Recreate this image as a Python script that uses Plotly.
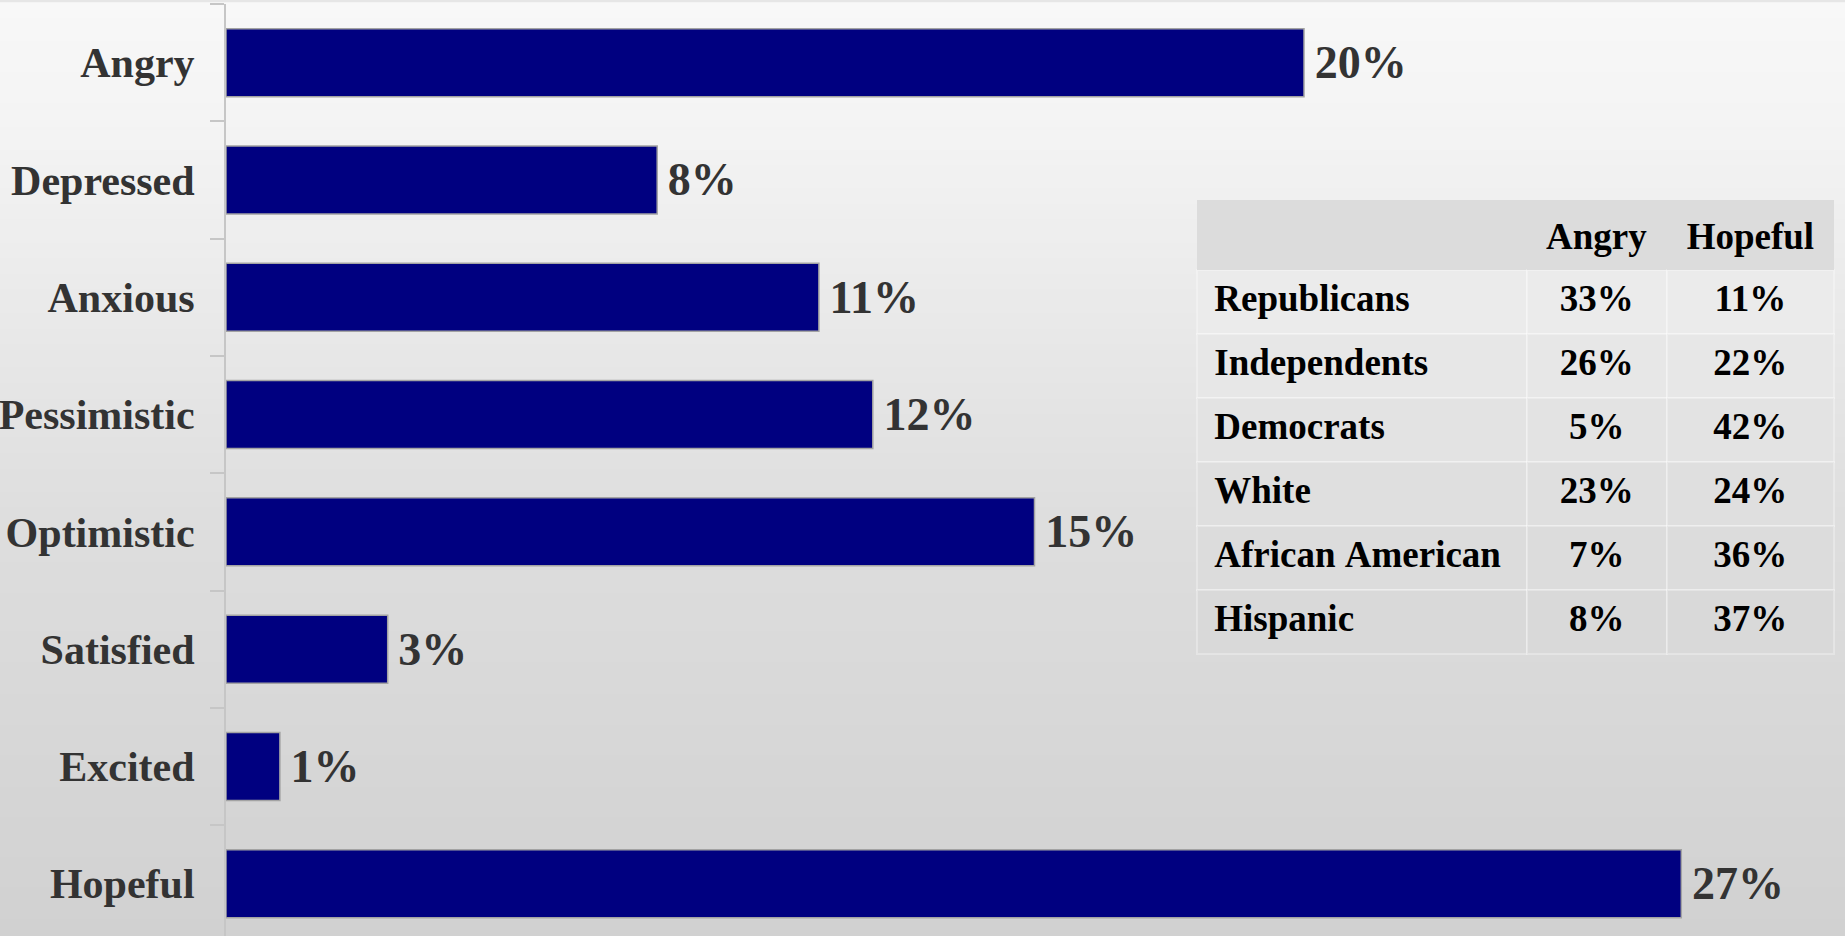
import plotly.graph_objects as go

# ---- data ----
emotions = ["Angry", "Depressed", "Anxious", "Pessimistic", "Optimistic", "Satisfied", "Excited", "Hopeful"]
shares = [20, 8, 11, 12, 15, 3, 1, 27]

table_header = ["", "Angry", "Hopeful"]
groups = ["Republicans", "Independents", "Democrats", "White", "African American", "Hispanic"]
angry_by_group = [33, 26, 5, 23, 7, 8]
hopeful_by_group = [11, 22, 42, 24, 36, 37]

W, H = 1845, 936
SERIF = "Liberation Serif"
NBSP = "\u00a0"
HEADER_FILL = "#dcdcdc"

fig = go.Figure()

fig.add_trace(go.Bar(
    y=emotions, x=shares, orientation="h",
    marker=dict(color="#000080", line=dict(color="#a3a3a3", width=1.5)),
    text=[f"\u2006{v}%" for v in shares],
    textposition="outside",
    textfont=dict(family=SERIF, size=46, color="#333333", weight="bold"),
    cliponaxis=False,
    hoverinfo="skip",
    showlegend=False,
))

TABLE_TOP = 208
fig.add_trace(go.Table(
    domain=dict(x=[(1197 - 226) / (W - 226), (1834 - 226) / (W - 226)],
                y=[0.25, 1 - (TABLE_TOP - 4) / (H - 4)]),
    columnwidth=[329, 140, 167],
    header=dict(
        values=[f"<b>{h}</b>" for h in table_header],
        align=["left", "center", "center"],
        height=62,
        fill=dict(color=HEADER_FILL),
        line=dict(color=HEADER_FILL, width=0),
        font=dict(family=SERIF, size=37, color="#000000"),
    ),
    cells=dict(
        values=[
            [f"<b>{NBSP}{g.replace(' ', NBSP)}</b>" for g in groups],
            [f"<b>{v}%</b>" for v in angry_by_group],
            [f"<b>{v}%</b>" for v in hopeful_by_group],
        ],
        align=["left", "center", "center"],
        height=64,
        fill=dict(color=[["#ebebeb", "#e7e7e7", "#e3e3e3", "#dfdfdf", "#dcdcdc", "#d9d9d9"]] * 3),
        line=dict(color="rgba(255,255,255,0.3)", width=2),
        font=dict(family=SERIF, size=37, color="#000000"),
    ),
))

# background gradient (stacked thin stripes)
stops = [(0.0, 248), (0.15, 243), (0.55, 222), (1.0, 209)]
def shade(t):
    for (t0, c0), (t1, c1) in zip(stops[:-1], stops[1:]):
        if t <= t1:
            return c0 + (c1 - c0) * (t - t0) / (t1 - t0)
    return stops[-1][1]
N = 120
shapes = []
for i in range(N):
    t0, t1 = i / N, (i + 1) / N
    c = int(round(shade((t0 + t1) / 2)))
    shapes.append(dict(type="rect", xref="paper", yref="paper", x0=-0.2, x1=1.2,
                       y0=1 - t1 - 0.002, y1=1 - t0 + 0.002, layer="below",
                       line=dict(width=0), fillcolor=f"rgb({c},{c},{c})"))
# top strip of the table's header band
shapes.append(dict(type="rect", xref="paper", yref="paper",
                   x0=(1197 - 226) / (W - 226), x1=(1834 - 226) / (W - 226),
                   y0=1 - (TABLE_TOP + 2 - 4) / (H - 4), y1=1 - (200 - 4) / (H - 4),
                   layer="below", line=dict(width=0), fillcolor=HEADER_FILL))

fig.update_layout(
    width=W, height=H,
    margin=dict(l=226, r=0, t=4, b=0, pad=0, autoexpand=False),
    paper_bgcolor="#e6e6e6",
    plot_bgcolor="rgba(0,0,0,0)",
    bargap=0.42,
    shapes=shapes,
    xaxis=dict(visible=False, range=[0, (W - 226) / 53.9], fixedrange=True, automargin=False),
    yaxis=dict(
        type="category", categoryorder="array", categoryarray=emotions,
        range=[-0.5 + (H - 4) / 117.3, -0.5], automargin=False,
        showline=True, linecolor="#c6c6c6", linewidth=2,
        ticks="outside", ticklen=14, tickwidth=2, tickcolor="#c6c6c6",
        tickson="boundaries", showgrid=False,
        tickfont=dict(family=SERIF, size=42, color="#333333", weight="bold"),
        ticklabelstandoff=21,
    ),
)

fig.write_html(
    "out.html",
    config={"displayModeBar": False},
    post_script="document.body.style.margin='0';document.body.style.overflow='hidden';",
)
